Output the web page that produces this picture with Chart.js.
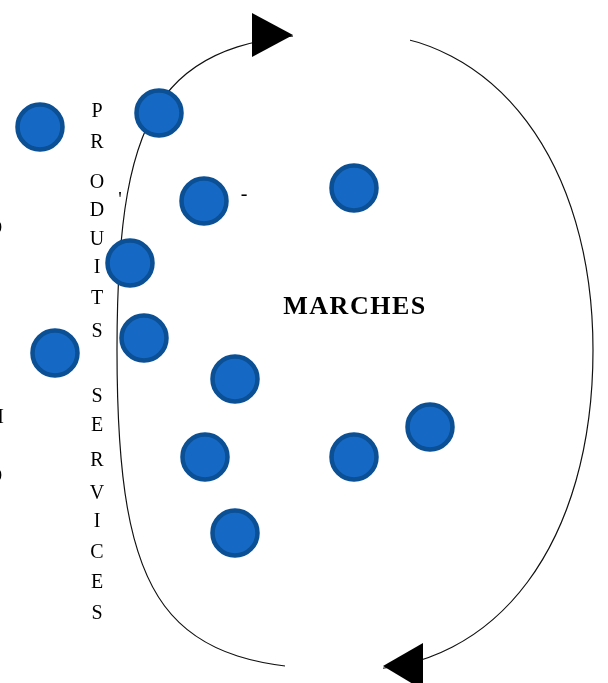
<!DOCTYPE html>
<html><head><meta charset="utf-8">
<style>html,body{margin:0;padding:0;background:#fff;overflow:hidden}#wrap{width:608px;height:683px}</style>
<script src="https://cdn.jsdelivr.net/npm/chart.js@4/dist/chart.umd.min.js"></script>
</head><body><div id="wrap"><canvas id="c" width="608" height="683"></canvas></div>
<script>
// circles (x, y in picture units)
const pointX = [40, 159, 204, 354, 130, 55, 144, 235, 430, 205, 354, 235];
const pointY = [127, 113, 201, 188, 263, 353, 338, 379, 427, 457, 457, 533];
const marketLabel = 'MARCHES';
const marketPos = [355, 307];
const sideLetters = ['P','R','O','D','U','I','T','S','S','E','R','V','I','C','E','S'];
const sideLetterY = [112, 143, 183, 211, 240, 268, 299, 332, 397, 426, 461, 494, 522, 553, 583, 614];
const sideLetterX = 97;
// clipped letters at the left edge
const edgeLetters = ['O', 'M', 'O'];
const edgeLetterY = [229, 418, 477];
// loop (cycle) outline
const loopBox = {cx: 355, cy: 350, left: 117, right: 593, top: 33, bottom: 670};
const loopRound = {tr: 0.59, br: 0.6, bl: 0.8, tl: 0.8};

const decor = {
  id: 'decor',
  beforeDatasetsDraw(chart) {
    const ctx = chart.ctx, xs = chart.scales.x, ys = chart.scales.y;
    const X = v => xs.getPixelForValue(v), Y = v => ys.getPixelForValue(v);
    const b = loopBox, k = loopRound;
    const rx1 = b.right - b.cx, rx2 = b.cx - b.left, ry1 = b.cy - b.top, ry2 = b.bottom - b.cy;
    ctx.save();
    ctx.beginPath();
    ctx.rect(0, 0, chart.width, chart.height);
    ctx.rect(X(293), Y(10), X(410) - X(293), Y(58) - Y(10));
    ctx.rect(X(285), Y(648), X(383) - X(285), Y(690) - Y(648));
    ctx.clip('evenodd');
    ctx.beginPath();
    ctx.moveTo(X(b.cx), Y(b.top));
    ctx.bezierCurveTo(X(b.cx + k.tr * rx1), Y(b.top), X(b.right), Y(b.cy - k.tr * ry1), X(b.right), Y(b.cy));
    ctx.bezierCurveTo(X(b.right), Y(b.cy + k.br * ry2), X(b.cx + k.br * rx1), Y(b.bottom), X(b.cx), Y(b.bottom));
    ctx.bezierCurveTo(X(b.cx - k.bl * rx2), Y(b.bottom), X(b.left), Y(b.cy + k.bl * ry2), X(b.left), Y(b.cy));
    ctx.bezierCurveTo(X(b.left), Y(b.cy - k.tl * ry1), X(b.cx - k.tl * rx2), Y(b.top), X(b.cx), Y(b.top));
    ctx.strokeStyle = '#111';
    ctx.lineWidth = 1.2;
    ctx.stroke();
    ctx.restore();
    // arrows
    ctx.save();
    ctx.fillStyle = '#000';
    ctx.beginPath();
    ctx.moveTo(X(252), Y(13)); ctx.lineTo(X(252), Y(57)); ctx.lineTo(X(293), Y(35)); ctx.closePath(); ctx.fill();
    ctx.beginPath();
    ctx.moveTo(X(423), Y(643)); ctx.lineTo(X(423), Y(690)); ctx.lineTo(X(383), Y(666)); ctx.closePath(); ctx.fill();
    // texts
    ctx.fillStyle = '#000';
    ctx.textAlign = 'center';
    ctx.textBaseline = 'middle';
    ctx.font = '20px "Liberation Serif", serif';
    sideLetters.forEach((ch, i) => ctx.fillText(ch, X(sideLetterX), Y(sideLetterY[i])));
    edgeLetters.forEach((ch, i) => ctx.fillText(ch, X(-5), Y(edgeLetterY[i])));
    ctx.fillText("'", X(120), Y(201));
    ctx.fillText('-', X(244), Y(195));
    ctx.font = 'bold 26px "Liberation Serif", serif';
    try { ctx.letterSpacing = '1.5px'; } catch (e) {}
    ctx.fillText(marketLabel, X(marketPos[0]), Y(marketPos[1]));
    ctx.restore();
  }
};

new Chart(document.getElementById('c'), {
  type: 'scatter',
  data: {
    datasets: [{
      data: pointX.map((x, i) => ({x: x, y: pointY[i]})),
      pointRadius: 22.5,
      pointHoverRadius: 22.5,
      borderWidth: 4.5,
      backgroundColor: '#1568c4',
      borderColor: '#0b4f94',
      clip: false
    }]
  },
  options: {
    responsive: false,
    animation: false,
    layout: {padding: 0, autoPadding: false},
    plugins: {legend: {display: false}, tooltip: {enabled: false}},
    scales: {
      x: {type: 'linear', min: 0, max: 608, display: false},
      y: {type: 'linear', min: 0, max: 683, reverse: true, display: false}
    }
  },
  plugins: [decor]
});
</script></body></html>
